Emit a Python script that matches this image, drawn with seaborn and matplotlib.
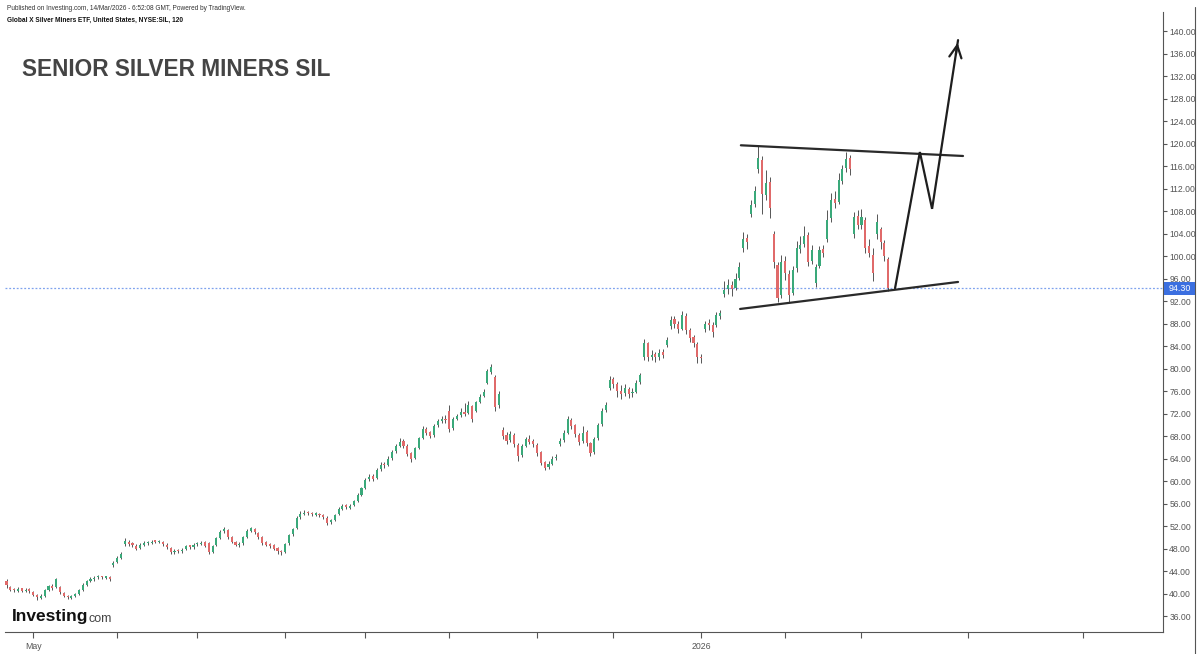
import numpy as np
import pandas as pd
import matplotlib
matplotlib.use("Agg")
import matplotlib.pyplot as plt
import seaborn as sns
from matplotlib.patches import Rectangle

# daily SIL candles (Apr 22 2025 -> Mar 13 2026)
opens = [42.3, 41.2, 40.8, 40.5, 40.9, 40.4, 40.8, 40.3, 39.7, 39.2, 39.6, 40.7, 41.4, 41.1, 41.2, 40.1, 39.5, 39.2, 39.6, 39.9,
         40.7, 41.5, 42.3, 42.5, 42.9, 43.0, 42.8, 42.9, 45.0, 45.6, 46.4, 48.8, 49.2, 48.9, 48.5, 48.1, 48.7, 48.9, 49.0, 49.3,
         49.1, 49.2, 48.7, 48.1, 47.4, 47.7, 47.5, 47.9, 48.5, 48.2, 48.8, 48.8, 49.1, 48.9, 47.4, 48.6, 49.9, 51.1, 51.3, 50.1,
         49.1, 48.6, 48.9, 50.1, 51.1, 51.5, 50.8, 50.1, 49.1, 48.6, 48.6, 48.1, 47.6, 47.4, 48.9, 50.5, 51.6, 53.6, 54.1, 54.5,
         54.2, 54.0, 54.2, 53.9, 53.5, 52.7, 53.1, 54.1, 55.0, 55.7, 55.2, 55.7, 56.5, 57.6, 58.8, 60.3, 60.9, 60.5, 62.1, 63.0,
         62.9, 64.1, 65.3, 66.3, 67.1, 66.2, 64.9, 64.1, 65.9, 67.7, 69.2, 68.7, 68.1, 69.9, 70.7, 71.1, 72.5, 69.4, 71.1, 71.7,
         72.3, 72.1, 73.4, 72.5, 74.1, 75.1, 77.5, 79.4, 78.5, 73.5, 69.0, 68.1, 67.3, 68.2, 66.4, 64.6, 66.3, 67.5, 67.1, 66.4,
         65.1, 63.3, 62.5, 63.1, 64.1, 66.5, 67.3, 68.6, 70.9, 69.9, 68.2, 67.1, 68.7, 66.7, 65.1, 67.6, 70.1, 72.6, 76.5, 78.1,
         77.2, 76.1, 75.6, 76.4, 75.6, 75.9, 77.6, 82.0, 84.5, 82.1, 82.6, 82.1, 82.9, 84.2, 87.5, 88.8, 87.9, 87.1, 89.4, 86.9,
         85.6, 84.4, 82.1, 87.0, 88.1, 87.7, 87.8, 89.4, 93.2, 94.1, 94.9, 94.3, 96.1, 101.5, 103.2, 107.5, 109.2, 115.5, 117.0, 110.8,
         113.2, 104.0, 98.5, 93.0, 99.2, 96.8, 93.5, 97.8, 101.3, 102.2, 103.7, 99.2, 95.2, 98.2, 101.2, 103.0, 106.7, 110.2, 109.7, 113.4,
         115.6, 117.5, 104.0, 107.2, 105.6, 106.5, 101.8, 100.2, 104.0, 104.8, 102.3, 99.5]
highs = [42.5, 41.4, 41.0, 41.1, 41.0, 41.0, 40.9, 40.5, 39.9, 39.9, 40.8, 41.6, 41.7, 42.8, 41.4, 40.3, 39.8, 39.8, 40.1, 40.8,
         41.8, 42.4, 42.9, 43.1, 43.3, 43.2, 43.2, 43.1, 45.8, 46.6, 47.3, 49.8, 49.5, 49.2, 48.8, 48.9, 49.3, 49.4, 49.5, 49.5,
         49.6, 49.4, 48.9, 48.3, 47.9, 47.9, 48.1, 48.6, 48.7, 49.0, 49.2, 49.3, 49.3, 49.1, 48.7, 50.0, 51.3, 51.9, 51.5, 50.3,
         49.4, 49.1, 50.2, 51.4, 51.9, 51.7, 51.0, 50.2, 49.3, 48.9, 48.8, 48.2, 47.8, 49.0, 50.6, 51.7, 53.8, 54.6, 54.8, 54.7,
         54.5, 54.5, 54.4, 54.1, 53.7, 53.3, 54.2, 55.3, 55.9, 55.9, 55.9, 56.7, 57.8, 59.0, 60.6, 61.3, 61.2, 62.3, 63.3, 63.4,
         64.4, 65.6, 66.6, 67.6, 67.4, 66.5, 65.2, 66.1, 67.9, 69.7, 69.6, 68.9, 70.1, 71.0, 71.5, 71.8, 73.6, 71.3, 72.0, 72.9,
         73.8, 74.3, 73.6, 74.3, 75.5, 76.3, 79.9, 80.8, 78.8, 76.0, 69.6, 68.7, 68.9, 68.5, 66.7, 66.6, 67.9, 68.1, 67.5, 66.7,
         65.3, 63.6, 63.5, 64.4, 64.8, 67.6, 69.0, 71.6, 71.2, 70.2, 68.5, 69.8, 69.0, 67.0, 67.9, 70.4, 72.9, 74.0, 78.6, 78.5,
         77.6, 77.0, 77.2, 76.8, 76.5, 77.9, 79.3, 85.3, 84.8, 83.3, 83.0, 83.4, 83.4, 85.6, 89.4, 89.3, 88.4, 90.2, 89.8, 87.2,
         86.0, 84.7, 82.6, 88.5, 88.9, 88.2, 90.0, 90.4, 95.5, 96.0, 95.6, 97.0, 99.0, 104.3, 104.0, 110.0, 112.5, 119.6, 117.8, 115.3,
         114.0, 104.5, 99.0, 100.2, 100.0, 97.5, 98.2, 102.6, 103.6, 105.3, 104.2, 102.0, 98.6, 101.8, 102.0, 108.2, 111.3, 111.5, 114.8, 116.2,
         118.5, 118.0, 107.8, 108.2, 108.3, 107.0, 103.0, 101.5, 107.5, 105.2, 102.8, 99.8]
lows = [41.0, 40.4, 40.3, 40.3, 40.2, 40.2, 40.1, 39.5, 38.9, 39.0, 39.4, 40.5, 40.7, 40.9, 39.9, 39.4, 39.0, 39.0, 39.3, 39.7,
        40.5, 41.3, 42.0, 42.3, 42.6, 42.6, 42.5, 42.3, 44.8, 45.4, 46.2, 48.5, 48.5, 48.3, 47.7, 47.9, 48.5, 48.7, 48.8, 48.9,
        48.9, 48.5, 47.9, 47.0, 47.1, 47.2, 47.2, 47.7, 48.0, 48.0, 48.5, 48.6, 48.2, 47.0, 47.2, 48.4, 49.7, 50.8, 49.7, 48.9,
        48.4, 48.3, 48.7, 49.9, 50.9, 50.6, 49.7, 48.7, 48.4, 48.1, 47.7, 47.1, 46.9, 47.2, 48.7, 50.3, 51.4, 53.3, 53.9, 53.9,
        53.8, 53.8, 53.6, 53.3, 52.2, 52.4, 52.9, 53.9, 54.8, 55.0, 55.0, 55.5, 56.3, 57.4, 58.6, 60.0, 60.0, 60.3, 61.8, 62.3,
        62.6, 63.8, 65.0, 66.0, 65.9, 64.4, 63.4, 63.9, 65.7, 67.5, 68.2, 67.6, 67.9, 69.6, 70.4, 70.4, 68.8, 69.1, 70.8, 71.4,
        71.6, 71.9, 70.5, 72.3, 73.8, 74.9, 77.2, 79.0, 72.5, 73.0, 67.4, 66.6, 66.9, 66.0, 63.5, 64.2, 66.0, 66.5, 66.0, 64.5,
        62.8, 61.9, 62.1, 62.8, 63.7, 66.2, 67.0, 68.3, 69.2, 67.8, 66.4, 66.8, 66.3, 64.4, 64.8, 67.3, 69.8, 72.2, 76.2, 76.6,
        75.0, 74.6, 75.2, 74.8, 75.0, 75.6, 77.3, 81.5, 81.3, 81.5, 81.2, 81.6, 81.9, 83.8, 87.0, 87.2, 86.3, 86.8, 86.2, 84.8,
        83.9, 81.0, 81.0, 86.5, 86.8, 85.7, 87.4, 88.9, 92.8, 93.3, 92.9, 93.9, 95.7, 100.8, 101.2, 107.0, 108.8, 114.8, 107.5, 110.0,
        106.8, 97.8, 91.8, 92.5, 95.8, 91.9, 93.0, 97.2, 100.5, 101.6, 98.2, 98.6, 94.5, 97.8, 99.8, 102.5, 106.0, 108.6, 109.3, 112.8,
        115.0, 114.5, 103.3, 104.8, 104.9, 100.5, 99.8, 95.6, 103.0, 101.2, 99.2, 93.8]
closes = [41.5, 40.7, 40.6, 40.8, 40.5, 40.7, 40.4, 39.8, 39.3, 39.5, 40.6, 41.3, 41.0, 42.5, 40.2, 39.6, 39.3, 39.5, 39.8, 40.6,
          41.6, 42.2, 42.6, 42.8, 43.0, 42.9, 42.9, 42.6, 45.5, 46.3, 47.0, 49.3, 48.8, 48.6, 48.0, 48.6, 49.0, 49.1, 49.2, 49.2,
          49.3, 48.8, 48.2, 47.3, 47.6, 47.5, 47.8, 48.4, 48.3, 48.7, 48.9, 49.0, 48.4, 47.3, 48.5, 49.8, 51.0, 51.5, 50.0, 49.2,
          48.7, 48.8, 50.0, 51.2, 51.6, 50.9, 50.0, 49.0, 48.7, 48.5, 48.0, 47.5, 47.3, 48.8, 50.4, 51.4, 53.5, 54.2, 54.4, 54.3,
          54.1, 54.2, 53.9, 53.6, 52.6, 53.0, 54.0, 55.0, 55.6, 55.3, 55.6, 56.4, 57.5, 58.7, 60.2, 60.8, 60.4, 62.0, 62.8, 62.8,
          64.0, 65.2, 66.2, 67.0, 66.3, 64.8, 64.0, 65.8, 67.6, 69.3, 68.6, 68.0, 69.8, 70.6, 71.0, 70.8, 69.3, 71.0, 71.6, 72.2,
          72.0, 73.5, 71.0, 74.0, 75.0, 75.8, 79.5, 80.2, 73.2, 75.5, 68.0, 67.2, 68.3, 66.5, 64.5, 66.2, 67.4, 67.0, 66.5, 65.0,
          63.2, 62.4, 63.0, 64.0, 64.3, 67.2, 68.5, 71.0, 69.8, 68.3, 67.0, 68.6, 66.8, 65.0, 67.5, 70.0, 72.5, 73.5, 78.0, 77.3,
          76.0, 75.5, 76.5, 75.5, 75.8, 77.5, 78.8, 84.6, 82.0, 82.5, 82.0, 82.8, 82.5, 85.0, 88.7, 88.0, 87.0, 89.6, 86.8, 85.5,
          84.5, 82.0, 81.8, 88.0, 87.8, 86.5, 89.5, 89.8, 94.0, 94.8, 94.2, 96.0, 98.0, 103.0, 102.5, 109.0, 111.5, 117.5, 111.0, 113.0,
          108.5, 99.0, 92.5, 99.0, 97.0, 93.0, 97.5, 101.5, 102.0, 103.5, 99.0, 101.0, 98.0, 101.0, 100.5, 106.5, 110.0, 109.5, 113.5, 115.5,
          117.3, 115.5, 107.0, 105.5, 107.0, 101.5, 100.5, 97.0, 106.0, 102.5, 100.0, 94.3]
start_date = "2025-04-22"
last_price = 94.30

# hand-drawn pattern (bar index, price)
top_line_x, top_line_y = [192.4, 250.6], [119.7, 117.8]
low_line_x, low_line_y = [192.2, 249.3], [90.6, 95.4]
arrow_x = [232.8, 239.3, 242.5, 249.3]
arrow_y = [94.3, 118.5, 108.4, 138.4]

price_ticks = list(range(36, 141, 4))

df = pd.DataFrame({"open": opens, "high": highs, "low": lows, "close": closes})
df["date"] = pd.bdate_range(start_date, periods=len(df))
df["idx"] = np.arange(len(df))
df["up"] = df["close"] >= df["open"]

sns.set_theme(style="white")
plt.rcParams["font.family"] = ["Liberation Sans", "DejaVu Sans"]

W, H = 1200, 654
fig = plt.figure(figsize=(12, 6.54), dpi=100)
ax_box = [5 / W, 22 / H, 1158 / W, 620 / H]
ax = fig.add_axes(ax_box)
XMIN, XMAX = -0.4, 303.0
YMIN, YMAX = 33.16, 143.4

green, red, wick = "#3aa97a", "#e06a6a", "#3a3a3a"
ax.vlines(df["idx"], df["low"], df["high"], color=wick, linewidth=0.6, zorder=2)
body = (df["close"] - df["open"]).abs().clip(lower=0.25)
ax.bar(df["idx"], body, bottom=df[["open", "close"]].min(axis=1), width=0.55,
       color=np.where(df["up"], green, red), linewidth=0, zorder=3)

ax.axhline(last_price, color="#7fa2ee", linestyle=(0, (1.5, 1.5)), linewidth=0.9, zorder=1)

sns.lineplot(x=top_line_x, y=top_line_y, ax=ax, color="#2a2a2a", linewidth=1.6, zorder=4)
sns.lineplot(x=low_line_x, y=low_line_y, ax=ax, color="#2a2a2a", linewidth=1.6, zorder=4)
ax.plot(arrow_x, arrow_y, color="#1e1e1e", linewidth=1.6, zorder=5, solid_joinstyle="miter")
ax.annotate("", xy=(arrow_x[-1], arrow_y[-1]),
            xytext=(arrow_x[-2] + (arrow_x[-1] - arrow_x[-2]) * 0.9,
                    arrow_y[-2] + (arrow_y[-1] - arrow_y[-2]) * 0.9),
            arrowprops=dict(arrowstyle="->", color="#1e1e1e", lw=1.6, mutation_scale=22), zorder=5)

# month ticks: trading days inside the data, calendar days in the empty future area
last_idx = len(df) - 1
last_date = df["date"].iloc[-1]
month_pos, month_lab = [], []
for m in pd.date_range("2025-05-01", "2026-06-01", freq="MS"):
    if m <= last_date:
        pos = int((df["date"] >= m).idxmax())
    else:
        pos = last_idx + (m - last_date).days
    if pos > XMAX:
        continue
    month_pos.append(pos)
    if m.month == 5 and m.year == 2025:
        month_lab.append("May")
    elif m.month == 1:
        month_lab.append(str(m.year))
    else:
        month_lab.append("")
ax.set_xticks(month_pos)
ax.set_xticklabels(month_lab)

ax.yaxis.tick_right()
ax.set_yticks(price_ticks)
ax.set_yticklabels([f"{v:.2f}" for v in price_ticks])
ax.set_xlim(XMIN, XMAX)
ax.set_ylim(YMIN, YMAX)
ax.tick_params(axis="y", length=3, width=0.8, color="#555555", labelsize=6.2, labelcolor="#555555", pad=1.5, right=True)
ax.tick_params(axis="x", length=4, width=0.8, color="#555555", labelsize=6.3, labelcolor="#555555", pad=3, bottom=True)
for s in ["top", "left"]:
    ax.spines[s].set_visible(False)
for s in ["right", "bottom"]:
    ax.spines[s].set_color("#555555")
    ax.spines[s].set_linewidth(0.8)
ax.grid(False)

# last price label spanning the price scale
py = ax_box[1] + (last_price - YMIN) / (YMAX - YMIN) * ax_box[3]
fig.add_artist(Rectangle((1164 / W, py - 6.5 / H), 31 / W, 13 / H, transform=fig.transFigure,
                         facecolor="#3b6fe0", edgecolor="none", zorder=6))
fig.text(1179.5 / W, py, f"{last_price:.2f}", ha="center", va="center", color="white", fontsize=6.4, zorder=7)

fig.add_artist(plt.Line2D([1195 / W, 1195 / W], [0, 0.99], color="#555555", linewidth=0.8))

fig.text(7 / W, 1 - 8 / H, "Published on Investing.com, 14/Mar/2026 - 6:52:08 GMT, Powered by TradingView.",
         fontsize=4.7, color="#333333", va="center")
fig.text(7 / W, 1 - 20 / H, "Global X Silver Miners ETF, United States, NYSE:SIL, 120",
         fontsize=4.7, color="#111111", fontweight="bold", va="center")
fig.text(22 / W, 1 - 69 / H, "SENIOR SILVER MINERS SIL", fontsize=16.3, fontweight="bold",
         color="#444444", va="center")

logo = fig.text(12 / W, 1 - 617 / H, "Investing", fontsize=12.5, fontweight="bold",
                color="#111111", va="center")
fig.canvas.draw()
bb = logo.get_window_extent()
fig.text(bb.x1 / W + 0.5 / W, 1 - 619 / H, "com", fontsize=9, color="#444444", va="center")

fig.savefig("out.png", dpi=100, facecolor="white")
